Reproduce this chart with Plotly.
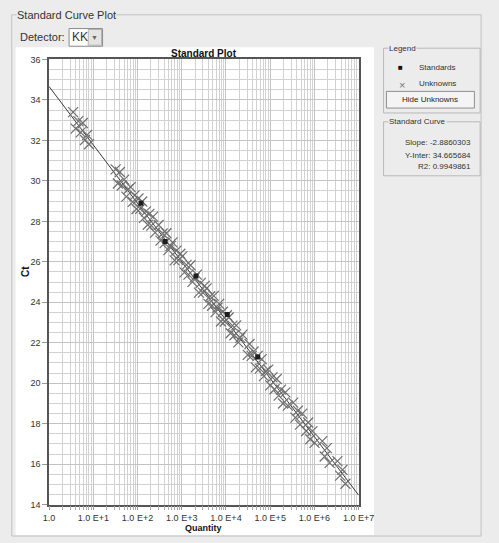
import math
import plotly.graph_objects as go

W, H = 499, 543

# ---------------- data ----------------
slope = -2.8860303
intercept = 34.665684
r2 = 0.9949861

std_quantity = [120, 420, 2100, 10700, 52000]
std_ct = [28.9, 27.0, 25.3, 23.4, 21.3]

unk_quantity = [
    3.5, 4.0, 4.6, 5.2, 5.8, 6.5, 7.3, 8.0,
    32, 36, 40, 44, 50, 56, 62, 70, 78, 86, 95, 105, 115, 128, 140, 155, 170, 185, 205, 225, 250,
    300, 330, 370, 410, 450, 500, 560, 620, 690, 760, 840, 930, 1030, 1150, 1280, 1420, 1580,
    1750, 1950, 2200, 2450, 2700, 3000, 3300, 3650, 4000, 4400, 4850, 5300, 5800, 6400, 7000,
    7700, 8500, 9400, 10500, 11500, 12700, 14000, 15500, 17000, 19000, 21000, 23500,
    31000, 34000, 38000, 42000, 47000, 52000, 58000, 64000, 72000, 80000, 90000, 100000,
    112000, 125000, 140000, 155000, 175000, 195000, 220000, 250000,
    330000, 370000, 420000, 470000, 530000, 650000, 720000, 800000, 900000, 1000000,
    1500000, 1700000, 1900000, 2200000, 3300000, 3800000, 4300000, 5000000,
]
unk_ct = [
    33.40, 32.58, 32.95, 32.40, 32.86, 32.02, 32.27, 31.81,
    30.57, 29.87, 30.44, 29.77, 30.06, 29.22, 29.59, 29.69, 28.96, 29.28, 28.61, 29.13, 28.62,
    28.98, 28.17, 28.49, 27.83, 28.37, 27.79, 28.23, 27.44,
    27.82, 27.05, 27.40, 26.92, 27.41, 26.58, 26.78, 26.96, 26.07, 26.55, 26.08, 26.40, 26.27,
    25.48, 25.85, 25.37, 25.83, 25.01, 25.22, 25.37, 24.48, 24.96, 24.48, 24.81, 24.69, 23.92,
    24.30, 23.83, 24.32, 23.51, 23.73, 23.92, 23.05, 23.53, 23.05, 23.36, 23.25, 22.47, 22.85,
    22.37, 22.86, 22.02, 22.24, 22.40,
    21.40, 21.94, 21.35, 21.57, 20.78, 21.35, 20.72, 21.19, 20.35, 20.61, 20.67, 19.89,
    20.29, 19.70, 20.21, 19.39, 19.68, 19.00, 19.55, 18.89,
    19.04, 18.30, 18.64, 17.95, 18.50, 17.64, 18.06, 17.23, 17.63, 17.05,
    17.14, 16.38, 16.79, 16.06, 16.15, 15.43, 15.72, 15.03,
]

x_tickvals = [1, 10, 100, 1000, 10000, 100000, 1000000, 10000000]
x_ticktext = ["1.0", "1.0 E+1", "1.0 E+2", "1.0 E+3", "1.0 E+4", "1.0 E+5", "1.0 E+6", "1.0 E+7"]
y_range = [14, 36]

line_q = [1, 10000000]
line_ct = [intercept + slope * math.log10(q) for q in line_q]

# ---------------- helpers ----------------
def px(x):
    return x / W

def py(y):
    return 1 - y / H

FONT = "Liberation Sans, Arial, sans-serif"
BG = "#ececec"

minor_x = [m * 10 ** d for d in range(0, 7) for m in range(2, 10)]

fig = go.Figure()

fig.add_trace(go.Scatter(
    x=line_q, y=line_ct, mode="lines",
    line=dict(color="#3a3a3a", width=1), hoverinfo="skip", showlegend=False))

fig.add_trace(go.Scatter(
    x=unk_quantity, y=unk_ct, mode="markers", name="Unknowns",
    marker=dict(symbol="x-thin", size=10, line=dict(color="#707070", width=1.2)),
    showlegend=False))

fig.add_trace(go.Scatter(
    x=std_quantity, y=std_ct, mode="markers", name="Standards",
    marker=dict(symbol="square", size=5, color="#1e1e1e"),
    showlegend=False))

fig.update_layout(
    width=W, height=H,
    margin=dict(l=0, r=0, t=0, b=0),
    paper_bgcolor=BG,
    plot_bgcolor="white",
    font=dict(family=FONT, size=9, color="#222"),
    xaxis=dict(
        type="log",
        domain=[px(45), px(369)],
        range=[0, 7],
        tickmode="array", tickvals=x_tickvals, ticktext=x_ticktext,
        ticks="outside", ticklen=4, tickcolor="#999",
        tickfont=dict(size=9, color="#333"),
        showgrid=True, gridcolor="#c4c4c4", gridwidth=1,
        minor=dict(tickmode="array", tickvals=minor_x, showgrid=True,
                   gridcolor="#d2d2d2", gridwidth=1, ticks="outside", ticklen=4, tickcolor="#aaa"),
        showline=True, linecolor="#555", linewidth=1.5, mirror=True,
        zeroline=False,
    ),
    yaxis=dict(
        domain=[py(509), py(55.5)],
        range=y_range,
        dtick=2, tick0=14,
        ticks="outside", ticklen=5, tickcolor="#999",
        tickfont=dict(size=9, color="#333"),
        showgrid=True, gridcolor="#c4c4c4", gridwidth=1,
        minor=dict(dtick=0.5, showgrid=True, gridcolor="#d2d2d2", gridwidth=1),
        showline=True, linecolor="#555", linewidth=1.5, mirror=True,
        zeroline=False,
    ),
)

shapes = []
# outer group box
shapes.append(dict(type="rect", xref="paper", yref="paper",
                   x0=px(6), x1=px(497), y0=py(541), y1=py(10),
                   line=dict(color="#c2c2c2", width=1), fillcolor=BG, layer="below"))
# white plot panel
shapes.append(dict(type="rect", xref="paper", yref="paper",
                   x0=px(10), x1=px(385), y0=py(540), y1=py(43),
                   line=dict(width=0), fillcolor="white", layer="below"))
# detector combo
shapes.append(dict(type="rect", xref="paper", yref="paper",
                   x0=px(66), x1=px(101), y0=py(42), y1=py(24),
                   line=dict(color="#8a8a8a", width=1), fillcolor="white", layer="below"))
shapes.append(dict(type="rect", xref="paper", yref="paper",
                   x0=px(86), x1=px(100), y0=py(41), y1=py(25),
                   line=dict(color="#b0b0b0", width=1), fillcolor="#e4e4e4", layer="below"))
# legend group box
shapes.append(dict(type="rect", xref="paper", yref="paper",
                   x0=px(395), x1=px(496), y0=py(110), y1=py(44),
                   line=dict(color="#b8b8b8", width=1), fillcolor=BG, layer="below"))
# hide unknowns button
shapes.append(dict(type="rect", xref="paper", yref="paper",
                   x0=px(398), x1=px(490), y0=py(105), y1=py(88),
                   line=dict(color="#8e8e8e", width=1), fillcolor="#f4f4f4", layer="below"))
# standard curve group box
shapes.append(dict(type="rect", xref="paper", yref="paper",
                   x0=px(395), x1=px(496), y0=py(174), y1=py(119),
                   line=dict(color="#b8b8b8", width=1), fillcolor=BG, layer="below"))
fig.update_layout(shapes=shapes)

ann = []
def text(x, y, s, size=9, bold=False, color="#222", xanchor="left", bg=None, angle=0):
    d = dict(x=px(x), y=py(y), xref="paper", yref="paper",
             text=("<b>%s</b>" % s) if bold else s, showarrow=False,
             xanchor=xanchor, yanchor="middle",
             font=dict(size=size, color=color, family=FONT), textangle=angle)
    if bg:
        d["bgcolor"] = bg
        d["borderpad"] = 0
    ann.append(d)

text(10, 10, "Standard Curve Plot", size=11, color="#333", bg=BG)
text(13, 33, "Detector:", size=11, color="#333")
text(67, 33, "KK", size=12, color="#333")
text(93, 33, "▼", size=7, color="#666", xanchor="center")
text(207, 49, "Standard Plot", size=10, bold=True, color="#111", xanchor="center")
text(207, 533, "Quantity", size=9, bold=True, color="#111", xanchor="center")
text(21, 272, "Ct", size=10, bold=True, color="#111", xanchor="center", angle=-90)

text(400, 44, "Legend", size=8, color="#333", bg=BG)
text(413, 64, "■", size=8, color="#111", xanchor="center")
text(430, 64, "Standards", size=8, color="#333")
text(414, 81, "×", size=11, color="#777", xanchor="center")
text(430, 80, "Unknowns", size=8, color="#333")
text(444, 96, "Hide Unknowns", size=8, color="#222", xanchor="center")
text(400, 119, "Standard Curve", size=8, color="#333", bg=BG)
text(489, 140, "Slope: %.7f" % slope, size=8, color="#333", xanchor="right")
text(489, 153, "Y-Inter: %.6f" % intercept, size=8, color="#333", xanchor="right")
text(489, 165, "R2: %.7f" % r2, size=8, color="#333", xanchor="right")
fig.update_layout(annotations=ann)

fig.write_html("out.html")
